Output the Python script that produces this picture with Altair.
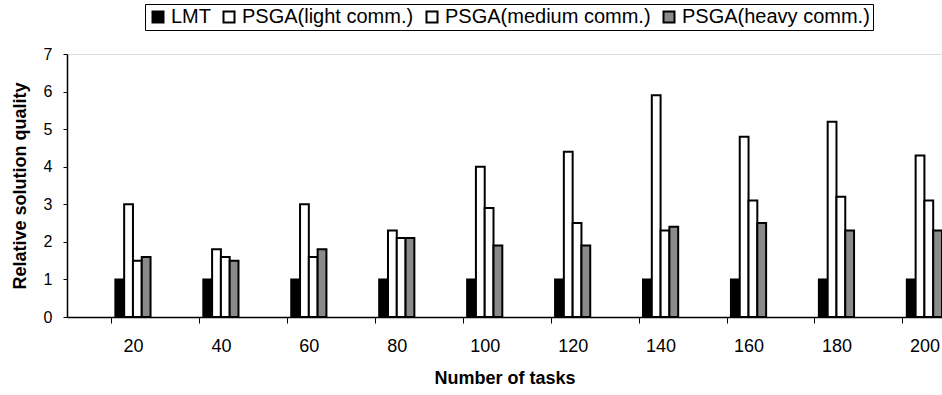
import altair as alt
import pandas as pd

tasks = [20, 40, 60, 80, 100, 120, 140, 160, 180, 200]
series = ["LMT", "PSGA(light comm.)", "PSGA(medium comm.)", "PSGA(heavy comm.)"]
lmt = [1, 1, 1, 1, 1, 1, 1, 1, 1, 1]
light = [3.0, 1.8, 3.0, 2.3, 4.0, 4.4, 5.9, 4.8, 5.2, 4.3]
medium = [1.5, 1.6, 1.6, 2.1, 2.9, 2.5, 2.3, 3.1, 3.2, 3.1]
heavy = [1.6, 1.5, 1.8, 2.1, 1.9, 1.9, 2.4, 2.5, 2.3, 2.3]
colors = ["#000000", "#ffffff", "#ffffff", "#8a8a8a"]

rows = []
for idx, (name, vals) in enumerate(zip(series, [lmt, light, medium, heavy])):
    for t, v in zip(tasks, vals):
        rows.append({"tasks": t, "series": name, "value": v, "idx": idx})
df = pd.DataFrame(rows)

FONT = "Liberation Sans"

tick_vals = []
for t in tasks:
    tick_vals += [t - 5, t]

x_axis = alt.Axis(
    values=tick_vals,
    labelExpr="datum.value % 20 == 0 ? datum.label : ''",
    tickColor=alt.condition("datum.value % 20 != 0", alt.value("black"), alt.value("transparent")),
    tickSize=6,
    tickWidth=1,
    labelFontSize=18,
    labelPadding=14,
    labelColor="black",
    labelFont=FONT,
    domainColor="black",
    domainWidth=1.5,
    grid=False,
    title="Number of tasks",
    titleFont=FONT,
    titleFontSize=18,
    titleFontWeight="bold",
    titlePadding=14,
    titleColor="black",
)

y_axis = alt.Axis(
    values=[0, 1, 2, 3, 4, 5, 6, 7],
    tickSize=4,
    tickColor="black",
    labelFontSize=16,
    labelPadding=11,
    labelFont=FONT,
    labelColor="black",
    domainColor="black",
    domainWidth=1.5,
    grid=False,
    title="Relative solution quality",
    titleFont=FONT,
    titleFontSize=18,
    titleFontWeight="bold",
    titlePadding=14,
    titleColor="black",
)

chart = (
    alt.Chart(df)
    .transform_calculate(
        x0="datum.tasks - 4 + 2 * datum.idx",
        x1="datum.tasks - 2 + 2 * datum.idx",
        base="0",
    )
    .mark_bar(stroke="black", strokeWidth=2, clip=True, opacity=1)
    .encode(
        x=alt.X("x0:Q", scale=alt.Scale(domain=[5, 204], nice=False, zero=False), axis=x_axis),
        x2="x1:Q",
        y=alt.Y("value:Q", scale=alt.Scale(domain=[0, 7], nice=False), axis=y_axis),
        y2="base:Q",
        color=alt.Color(
            "series:N",
            scale=alt.Scale(domain=series, range=colors),
            sort=series,
            legend=alt.Legend(
                title=None,
                orient="none",
                direction="horizontal",
                legendX=78,
                legendY=-50,
                symbolType="square",
                symbolSize=121,
                symbolStrokeColor="black",
                symbolStrokeWidth=2,
                symbolOpacity=1,
                labelFont=FONT,
                labelFontSize=20,
                labelColor="black",
                labelLimit=0,
                labelOffset=3,
                columnPadding=8,
                strokeColor="black",
                padding=3,
            ),
        ),
        order=alt.Order("idx:Q"),
    )
    .properties(
        width=875,
        height=263,
        autosize=alt.AutoSizeParams(type="none"),
        padding={"left": 67, "top": 54, "right": 0, "bottom": 78},
    )
    .configure_view(stroke="black", strokeWidth=1.5)
    .configure(background="white")
)

chart.save("out.html", embed_options={"renderer": "svg", "actions": False})
